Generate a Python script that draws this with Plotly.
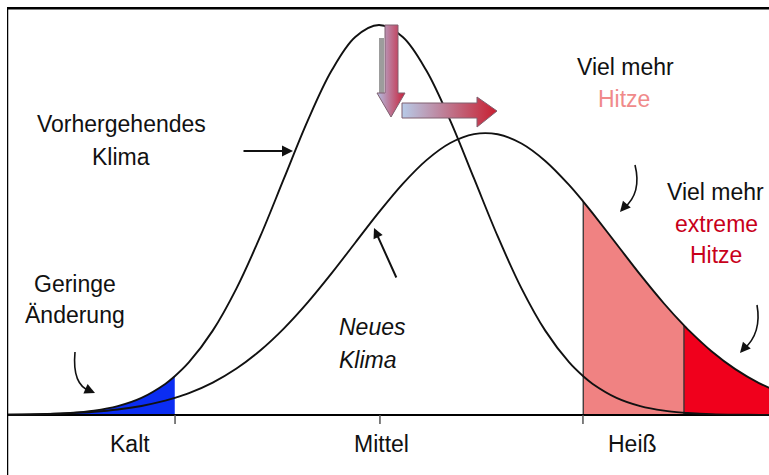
import plotly.graph_objects as go

# Temperature axis in units of the old standard deviation (0 = old mean)
t = [-4.0, -3.75, -3.5, -3.25, -3.0, -2.75, -2.5, -2.25, -2.15, -2.0, -1.75, -1.5,
     -1.25, -1.0, -0.75, -0.5, -0.25, 0.0, 0.25, 0.5, 0.75, 1.0, 1.25, 1.5, 1.75,
     2.0, 2.15, 2.25, 2.5, 2.75, 3.0, 3.21, 3.25, 3.5, 3.75, 4.0, 4.25]
# Relative frequency (old climate peak = 100)
old_climate = [0.03, 0.09, 0.22, 0.51, 1.11, 2.28, 4.39, 7.96, 9.92, 13.53, 21.63, 32.47,
               45.78, 60.65, 75.48, 88.25, 96.92, 100.0, 96.92, 88.25, 75.48, 60.65, 45.78,
               32.47, 21.63, 13.53, 9.92, 7.96, 4.39, 2.28, 1.11, 0.58, 0.51, 0.22, 0.09,
               0.03, 0.01]
new_climate = [0.07, 0.14, 0.27, 0.48, 0.84, 1.42, 2.32, 3.67, 4.37, 5.61, 8.32, 11.92,
               16.54, 22.22, 28.87, 36.30, 44.17, 52.01, 59.27, 65.36, 69.75, 72.03, 71.98,
               69.61, 65.14, 59.00, 54.72, 51.70, 43.85, 35.99, 28.59, 22.96, 21.97, 16.34,
               11.76, 8.19, 5.52]

tick_vals = [-2.147, 0.01, 2.147]
tick_labels = ["Kalt", "Mittel", "Heiß"]
cold_limit = -2.15
hot_limit = 2.15
extreme_limit = 3.21

FONT = "Liberation Sans, Arial, sans-serif"
TXT = "#111111"
FS = 23
TICK_LEN = 2.3  # in y units (about 9 px)

fig = go.Figure()

i_cold = t.index(cold_limit)
i_hot = t.index(hot_limit)
i_ext = t.index(extreme_limit)

# shaded regions
fig.add_trace(go.Scatter(x=t[:i_cold + 1], y=old_climate[:i_cold + 1], mode="lines",
                         line=dict(width=0, shape="spline"), fill="tozeroy",
                         fillcolor="#0b2df2", hoverinfo="skip"))
fig.add_trace(go.Scatter(x=t[i_hot:i_ext + 1], y=new_climate[i_hot:i_ext + 1], mode="lines",
                         line=dict(width=0, shape="spline"), fill="tozeroy",
                         fillcolor="#f08282", hoverinfo="skip"))
fig.add_trace(go.Scatter(x=t[i_ext:], y=new_climate[i_ext:], mode="lines",
                         line=dict(width=0, shape="spline"), fill="tozeroy",
                         fillcolor="#f0001c", hoverinfo="skip"))
# boundary lines
for i in (i_hot, i_ext):
    fig.add_trace(go.Scatter(x=[t[i], t[i]], y=[0, new_climate[i]], mode="lines",
                             line=dict(color="#333333", width=1.3), hoverinfo="skip"))
# baseline and ticks
fig.add_trace(go.Scatter(x=[t[0], t[-1]], y=[0, 0], mode="lines",
                         line=dict(color="black", width=2), hoverinfo="skip"))
tx, ty = [], []
for v in tick_vals:
    tx += [v, v, None]
    ty += [0, -TICK_LEN, None]
fig.add_trace(go.Scatter(x=tx, y=ty, mode="lines",
                         line=dict(color="#555555", width=1.5), hoverinfo="skip"))
# curves
fig.add_trace(go.Scatter(x=t, y=old_climate, mode="lines",
                         line=dict(color="#111111", width=1.9, shape="spline"), name="Vorhergehendes Klima"))
fig.add_trace(go.Scatter(x=t, y=new_climate, mode="lines",
                         line=dict(color="#111111", width=1.9, shape="spline"), name="Neues Klima"))

# gradient arrows (overlay pixel-like axes)
fig.add_trace(go.Scatter(x=[385, 398, 398, 405, 391, 377, 385, 385],
                         y=[25, 25, 93, 93, 117, 93, 93, 25],
                         xaxis="x2", yaxis="y2", mode="lines", fill="toself",
                         line=dict(color="#806070", width=1),
                         fillgradient=dict(type="horizontal",
                                           colorscale=[[0, "#b3bfe3"], [1, "#c8203a"]]),
                         hoverinfo="skip"))
fig.add_trace(go.Scatter(x=[402, 477, 477, 497, 477, 477, 402, 402],
                         y=[103, 103, 97, 111, 127, 118, 118, 103],
                         xaxis="x2", yaxis="y2", mode="lines", fill="toself",
                         line=dict(color="#806070", width=1),
                         fillgradient=dict(type="horizontal",
                                           colorscale=[[0, "#b7cbe8"], [1, "#c81e30"]]),
                         hoverinfo="skip"))

ann = []


def txt(x, y, s, color=TXT, anchor="center"):
    ann.append(dict(x=x, y=y, xref="x2", yref="y2", text=s, showarrow=False,
                    xanchor=anchor, yanchor="middle",
                    font=dict(family=FONT, size=FS, color=color)))


txt(121, 124, "Vorhergehendes")
txt(121, 157, "Klima")
txt(75, 284, "Geringe")
txt(75, 315, "Änderung")
txt(337, 327, "<i>Neues</i>", anchor="left")
txt(337, 360, "<i>Klima</i>", anchor="left")
txt(625, 67, "Viel mehr")
txt(624, 99, "Hitze", color="#f08a8a")
txt(715, 192, "Viel mehr")
txt(716, 224, "extreme", color="#c8001a")
txt(716, 255, "Hitze", color="#c8001a")
for xv, lab in zip([130, 381, 632], tick_labels):
    txt(xv, 444, lab)


def arrow(x, y, ax, ay, width=2.0, size=1.0):
    ann.append(dict(x=x, y=y, ax=ax, ay=ay, xref="x2", yref="y2", axref="x2", ayref="y2",
                    text="", showarrow=True, arrowhead=2, arrowsize=size,
                    arrowwidth=width, arrowcolor="#111111", standoff=0))


arrow(293, 151, 242, 151, 2.2)
arrow(374, 228, 397, 279, 2.0)
arrow(95, 393, 86, 389, 1.6, 1.3)
arrow(620, 212, 627, 204, 1.6, 1.3)
arrow(740, 353, 747, 345, 1.6, 1.3)

shapes = [
    # frame (left and top edges visible)
    dict(type="line", xref="x2", yref="y2", x0=7, x1=7, y0=7, y1=475,
         line=dict(color="black", width=2.5)),
    dict(type="line", xref="x2", yref="y2", x0=6, x1=769, y0=8.2, y1=8.2,
         line=dict(color="black", width=2.5)),
    dict(type="path", xref="x2", yref="y2", path="M 75 352 Q 72 385 90 391",
         line=dict(color="#111111", width=1.6)),
    dict(type="path", xref="x2", yref="y2", path="M 635 165 Q 642 193 624 208",
         line=dict(color="#111111", width=1.6)),
    dict(type="path", xref="x2", yref="y2", path="M 757 305 Q 762 333 744 349",
         line=dict(color="#111111", width=1.6)),
    dict(type="rect", xref="x2", yref="y2", x0=379, x1=384, y0=38, y1=93,
         line=dict(width=0), fillcolor="rgba(90,90,90,0.6)", layer="below"),
]

fig.update_layout(
    width=769, height=475, margin=dict(l=0, r=0, t=0, b=0),
    paper_bgcolor="white", plot_bgcolor="white", showlegend=False,
    xaxis=dict(domain=[7 / 769, 1], range=[(7 - 379) / 95, (769 - 379) / 95], visible=False),
    yaxis=dict(domain=[0, 1], range=[-60 / 3.9, 415 / 3.9], visible=False),
    xaxis2=dict(range=[7, 769], overlaying="x", anchor="y2", visible=False),
    yaxis2=dict(range=[475, 0], overlaying="y", anchor="x2", visible=False),
    annotations=ann, shapes=shapes,
)

fig.write_html("out.html", config={"displayModeBar": False},
               post_script="document.body.style.margin='0px';document.body.style.overflow='hidden';"
                           "document.documentElement.style.overflow='hidden';")
